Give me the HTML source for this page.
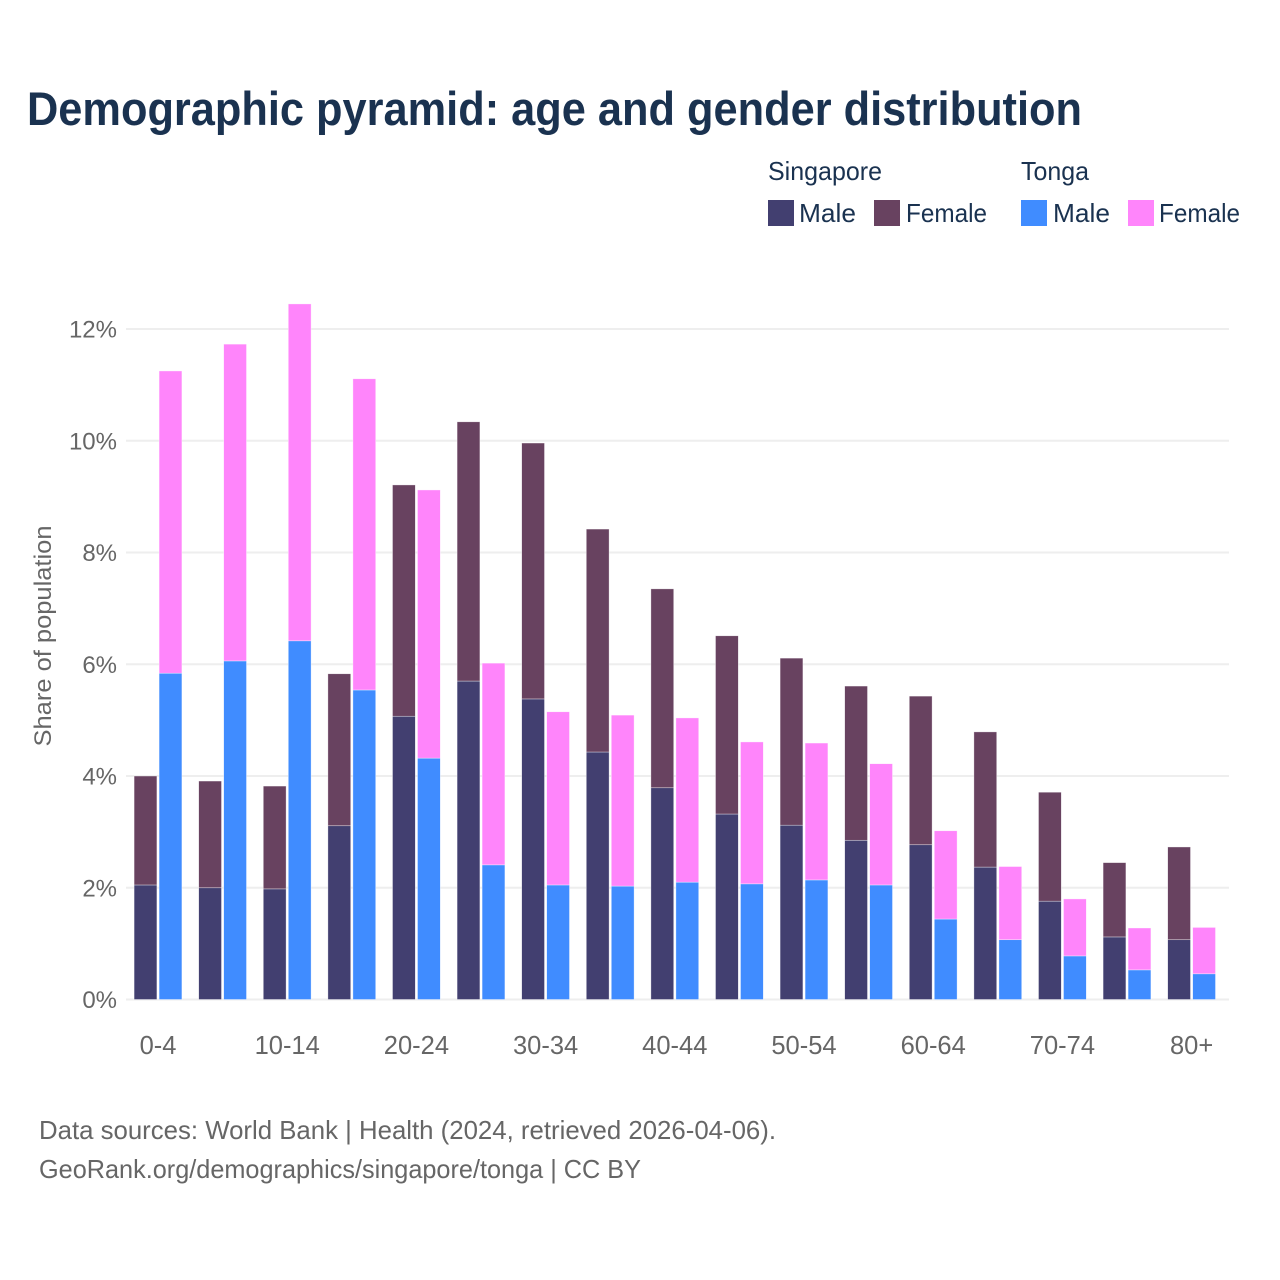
<!DOCTYPE html>
<html lang="en">
<head>
<meta charset="utf-8">
<title>Demographic pyramid: age and gender distribution</title>
<style>
html,body{margin:0;padding:0;background:#fff;width:1280px;height:1280px;overflow:hidden}
svg{display:block;font-family:"Liberation Sans",sans-serif}
</style>
</head>
<body>
<svg id="chart" xmlns="http://www.w3.org/2000/svg" width="1280" height="1280" viewBox="0 0 1280 1280">
  <rect x="0" y="0" width="1280" height="1280" fill="#ffffff"/>
  <text x="27" y="125" font-size="47" font-weight="700" fill="#1a3250" textLength="1055" lengthAdjust="spacingAndGlyphs">Demographic pyramid: age and gender distribution</text>

  <g font-size="26" fill="#1a3250">
    <text x="768" y="180" textLength="114" lengthAdjust="spacingAndGlyphs">Singapore</text>
    <text x="1021" y="180" textLength="68" lengthAdjust="spacingAndGlyphs">Tonga</text>
    <rect x="768" y="200" width="26" height="26" fill="#423f70"/>
    <text x="799" y="222" textLength="57" lengthAdjust="spacingAndGlyphs">Male</text>
    <rect x="874" y="200" width="26" height="26" fill="#684260"/>
    <text x="906" y="222" textLength="81" lengthAdjust="spacingAndGlyphs">Female</text>
    <rect x="1021" y="200" width="26" height="26" fill="#408cff"/>
    <text x="1053" y="222" textLength="57" lengthAdjust="spacingAndGlyphs">Male</text>
    <rect x="1128" y="200" width="26" height="26" fill="#ff85fb"/>
    <text x="1159" y="222" textLength="81" lengthAdjust="spacingAndGlyphs">Female</text>
  </g>

  <g id="grid"></g>
  <g id="bars"></g>
  <g id="yticks"></g>
  <g id="xticks"></g>

  <text transform="translate(51,636) rotate(-90)" text-anchor="middle" font-size="24" fill="#666666" textLength="221" lengthAdjust="spacingAndGlyphs">Share of population</text>

  <text x="39" y="1139" font-size="26" fill="#666666" textLength="737" lengthAdjust="spacingAndGlyphs">Data sources: World Bank | Health (2024, retrieved 2026-04-06).</text>
  <text x="39" y="1178" font-size="26" fill="#666666" textLength="602" lengthAdjust="spacingAndGlyphs">GeoRank.org/demographics/singapore/tonga | CC BY</text>
</svg>
<script>
const ageGroups = ["0-4","5-9","10-14","15-19","20-24","25-29","30-34","35-39","40-44","45-49","50-54","55-59","60-64","65-69","70-74","75-79","80+"];
const xTickLabels = ["0-4","10-14","20-24","30-34","40-44","50-54","60-64","70-74","80+"];
const yTickValues = [0,2,4,6,8,10,12];
const singaporeMale = [2.05,2.00,1.98,3.11,5.07,5.70,5.38,4.43,3.79,3.32,3.12,2.85,2.77,2.37,1.76,1.12,1.07];
const singaporeFemale = [1.95,1.91,1.84,2.72,4.14,4.64,4.58,3.99,3.56,3.19,2.99,2.76,2.66,2.42,1.95,1.33,1.66];
const tongaMale = [5.84,6.06,6.42,5.54,4.32,2.41,2.05,2.03,2.10,2.07,2.14,2.05,1.44,1.07,0.78,0.53,0.46];
const tongaFemale = [5.41,5.67,6.03,5.57,4.80,3.61,3.10,3.06,2.94,2.54,2.45,2.17,1.58,1.31,1.02,0.75,0.83];

const NS = "http://www.w3.org/2000/svg";
const plotLeft = 125.7, bandStep = 64.6, barWidth = 22.8, barGap = 1.1;
const baseY = 999.5, pxPerUnit = 55.87;
function yScale(v){ return baseY - v * pxPerUnit; }
function bandCenter(i){ return plotLeft + bandStep * (i + 0.5); }

const grid = document.getElementById("grid");
const bars = document.getElementById("bars");
const yticks = document.getElementById("yticks");
const xticks = document.getElementById("xticks");

yTickValues.forEach(function(v){
  const line = document.createElementNS(NS, "line");
  
  
  line.setAttribute("x1", 126);
  line.setAttribute("x2", 1229);
  line.setAttribute("y1", yScale(v));
  line.setAttribute("y2", yScale(v));
  line.setAttribute("stroke", "#eeeeee");
  line.setAttribute("stroke-width", 2);
  grid.appendChild(line);

  const label = document.createElementNS(NS, "text");
  
  
  label.setAttribute("x", 117);
  label.setAttribute("y", yScale(v) + 8.5);
  label.setAttribute("text-anchor", "end");
  label.setAttribute("font-size", "24");
  label.setAttribute("fill", "#666666");
  label.textContent = v + "%";
  yticks.appendChild(label);
});

function drawBar(x, v0, v1, fill){
  const r = document.createElementNS(NS, "rect");
  
  
  r.setAttribute("x", x);
  r.setAttribute("y", yScale(v1));
  r.setAttribute("width", barWidth);
  r.setAttribute("height", yScale(v0) - yScale(v1));
  r.setAttribute("fill", fill);
  r.setAttribute("stroke", "#ffffff");
  r.setAttribute("stroke-opacity", "0.6");
  r.setAttribute("stroke-width", "0.6");
  bars.appendChild(r);
}

ageGroups.forEach(function(age, i){
  const c = bandCenter(i);
  const xA = c - barGap - barWidth;
  const xB = c + barGap;
  drawBar(xA, 0, singaporeMale[i], "#423f70");
  drawBar(xA, singaporeMale[i], singaporeMale[i] + singaporeFemale[i], "#684260");
  drawBar(xB, 0, tongaMale[i], "#408cff");
  drawBar(xB, tongaMale[i], tongaMale[i] + tongaFemale[i], "#ff85fb");

  if (xTickLabels.indexOf(age) !== -1) {
    const t = document.createElementNS(NS, "text");
    
    
    t.setAttribute("x", c);
    t.setAttribute("y", 1054);
    t.setAttribute("text-anchor", "middle");
    t.setAttribute("font-size", "25.5");
    t.setAttribute("fill", "#666666");
    t.textContent = age;
    xticks.appendChild(t);
  }
});
</script>
</body>
</html>
